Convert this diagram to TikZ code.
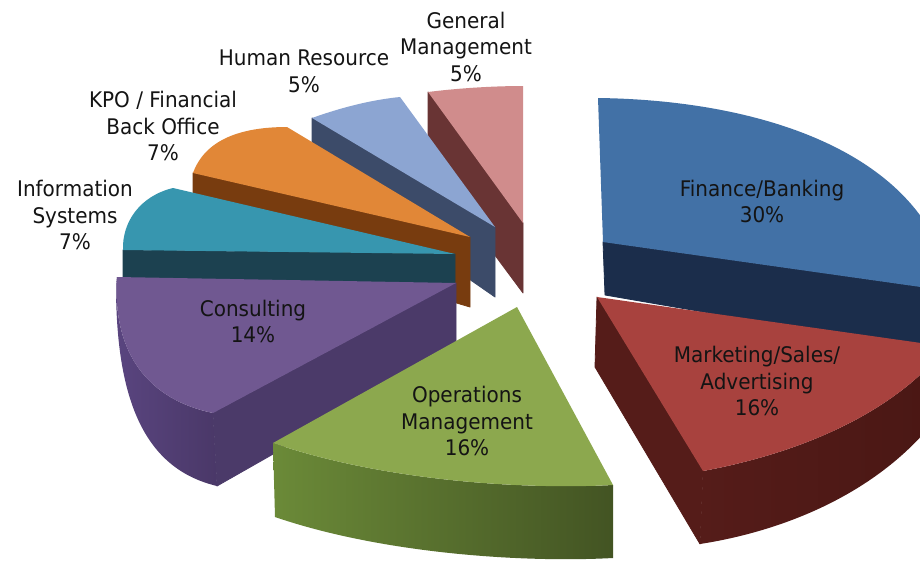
\documentclass[tikz,border=0pt]{standalone}
\usepackage{fontspec}
\setmainfont{DejaVu Sans}[FakeStretch=0.93]
\definecolor{gmT}{HTML}{D08C8C}
\definecolor{gmS}{HTML}{693434}
\definecolor{hrT}{HTML}{8CA5D2}
\definecolor{hrS}{HTML}{3C4B69}
\definecolor{kpT}{HTML}{E18737}
\definecolor{kpS}{HTML}{783C0F}
\definecolor{isT}{HTML}{3796AF}
\definecolor{isS}{HTML}{1C4150}
\definecolor{coT}{HTML}{705891}
\definecolor{coS}{HTML}{5A4580}
\definecolor{coSd}{HTML}{4A3868}
\definecolor{coR}{HTML}{4B3A69}
\definecolor{fiT}{HTML}{4271A6}
\definecolor{fiS}{HTML}{1B2D4B}
\definecolor{maT}{HTML}{A8423E}
\definecolor{maS}{HTML}{551C19}
\definecolor{maSd}{HTML}{4A1714}
\definecolor{opT}{HTML}{8CA84E}
\definecolor{opS}{HTML}{6B8A38}
\definecolor{opSd}{HTML}{435423}
\definecolor{lbltext}{HTML}{141414}
\begin{document}
\begin{tikzpicture}[x=1pt,y=-1pt,
  lbl/.style={align=center, font=\fontsize{21.5}{26.5}\selectfont, text=lbltext, inner sep=0pt},
  face/.style={fill=#1, draw=#1, line width=0.8pt, line join=round}]
\useasboundingbox (0,0) rectangle (920,562);
\clip (0,0) rectangle (920,562);
\fill[white] (0,0) rectangle (920,562);
% General Management
\path[face=gmS] (428,92) -- (523,223) -- (523,293) -- (428,165) -- cycle;
\fill[gmT] (428,92) .. controls (460,88) and (495,86) .. (523,86) -- (523,223) -- cycle;
% Human Resource
\path[face=hrS] (312,118) -- (495,227) -- (495,297) -- (312,170) -- cycle;
\fill[hrT] (312,118) .. controls (340,108) and (370,100) .. (400,97) -- (495,227) -- cycle;
% KPO
\path[face=kpS] (193,173) -- (470,237) -- (470,307) -- (193,225) -- cycle;
\fill[kpT] (287,127) -- (470,237) -- (193,173) .. controls (205,140) and (240,127) .. (287,127) -- cycle;
% Information Systems
\path[face=isS] (123,250) -- (455,254) -- (455,322) -- (123,320) -- cycle;
\fill[isT] (173,188) -- (455,254) -- (123,250) .. controls (122,222) and (140,196) .. (173,188) -- cycle;
% Consulting
\shade[left color=coS, right color=coSd] (117,277) .. controls (112,355) and (150,400) .. (213,413) -- (217,486) .. controls (150,470) and (116,410) .. (116,285) -- cycle;
\path[face=coR] (213,413) -- (456,283) -- (456,350) -- (217,486) -- cycle;
\fill[coT] (456,283) -- (117,277) .. controls (112,355) and (150,400) .. (213,413) -- cycle;
% Finance
\path[face=fiS] (603,242) -- (935,289) -- (935,352) -- (605,295) -- cycle;
\fill[fiT] (598,98) .. controls (750,100) and (895,145) .. (940,250) -- (935,289) -- (603,242) -- cycle;
% Marketing
\shade[left color=maS, right color=maSd] (703,471) .. controls (790,455) and (880,420) .. (935,360) -- (935,420) .. controls (880,490) and (790,530) .. (700,544) -- cycle;
\path[face=maS] (597,297) -- (703,471) -- (700,544) -- (595,367) -- cycle;
\fill[maT] (597,297) -- (935,345) -- (935,360) .. controls (880,420) and (790,455) .. (703,471) -- cycle;
% Operations
\shade[left color=opS, right color=opSd] (613,485) .. controls (520,490) and (380,480) .. (273,443) -- (275,517) .. controls (380,553) and (520,563) .. (613,558) -- cycle;
\fill[opT] (517,307) -- (613,485) .. controls (520,490) and (380,480) .. (273,443) -- cycle;
% Labels
\node[lbl] (gm) at (466,46.5) {General\\Management\\5\%};
\node[lbl] (hr) at (304,71.5) {Human Resource\\5\%};
\node[lbl] (kpo) at (163,126) {KPO / Financial\\Back Office\\7\%};
\node[lbl] (is) at (75,215) {Information\\Systems\\7\%};
\node[lbl] (fi) at (762,201.5) {Finance/Banking\\30\%};
\node[lbl] (co) at (253,321.5) {Consulting\\14\%};
\node[lbl] (op) at (467,421) {Operations\\Management\\16\%};
\node[lbl] (ma) at (757,381) {Marketing/Sales/\\Advertising\\16\%};
\end{tikzpicture}
\end{document}
